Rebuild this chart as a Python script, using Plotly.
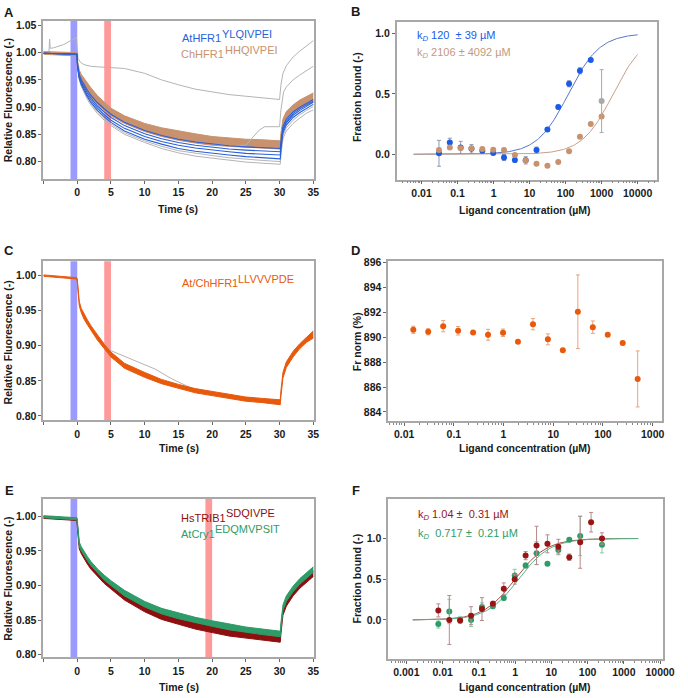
import numpy as np
import plotly.graph_objects as go

W, H = 688, 698
FONT = "Liberation Sans, Arial, Helvetica, sans-serif"

# ---------------- Panel A : MST time traces (AtHFR1 / ChHFR1) ----------------
TIME_A = [-5, -2.5, -0.05, 0.05, 0.3, 0.6, 1, 1.5, 2, 3, 4, 5, 7, 10, 12.5, 15, 17.5, 20,
          22.5, 25, 27.5, 30.1, 30.2, 30.5, 31, 32, 33, 34, 35]
A_BROWN_HI = [1.002, 1.001, 1.000, 0.985, 0.968, 0.960, 0.953, 0.944, 0.936, 0.921, 0.909, 0.898, 0.884,
              0.870, 0.862, 0.856, 0.851, 0.846, 0.843, 0.841, 0.840, 0.838, 0.852, 0.878, 0.892, 0.904,
              0.913, 0.920, 0.926]
A_BROWN_LO = [0.997, 0.996, 0.994, 0.972, 0.955, 0.946, 0.937, 0.927, 0.919, 0.905, 0.894, 0.884, 0.870,
              0.855, 0.846, 0.839, 0.834, 0.830, 0.828, 0.826, 0.825, 0.823, 0.836, 0.864, 0.878, 0.891,
              0.899, 0.905, 0.910]
A_BLUE_1 = [0.999, 0.998, 0.997, 0.978, 0.960, 0.950, 0.941, 0.931, 0.922, 0.908, 0.897, 0.887, 0.872,
            0.857, 0.848, 0.841, 0.836, 0.832, 0.829, 0.827, 0.826, 0.824, 0.836, 0.864, 0.878, 0.891,
            0.900, 0.907, 0.914]
A_BLUE_2 = [0.999, 0.998, 0.997, 0.976, 0.957, 0.946, 0.936, 0.926, 0.917, 0.902, 0.891, 0.881, 0.866,
            0.851, 0.842, 0.835, 0.830, 0.826, 0.823, 0.821, 0.820, 0.818, 0.832, 0.860, 0.874, 0.888,
            0.897, 0.904, 0.911]
A_BLUE_3 = [0.999, 0.998, 0.997, 0.975, 0.955, 0.944, 0.933, 0.922, 0.913, 0.898, 0.886, 0.876, 0.861,
            0.846, 0.837, 0.830, 0.825, 0.821, 0.818, 0.815, 0.813, 0.812, 0.828, 0.857, 0.871, 0.885,
            0.894, 0.902, 0.909]
A_BLUE_4 = [0.999, 0.998, 0.997, 0.974, 0.953, 0.941, 0.930, 0.919, 0.909, 0.894, 0.882, 0.872, 0.856,
            0.841, 0.832, 0.824, 0.819, 0.815, 0.812, 0.809, 0.807, 0.805, 0.823, 0.853, 0.867, 0.881,
            0.890, 0.898, 0.905]
A_GRAY_LO1 = [0.999, 0.998, 0.997, 0.973, 0.952, 0.940, 0.928, 0.917, 0.907, 0.891, 0.879, 0.869, 0.853,
              0.838, 0.828, 0.820, 0.815, 0.811, 0.807, 0.804, 0.802, 0.800, 0.818, 0.848, 0.862, 0.876,
              0.886, 0.894, 0.901]
A_GRAY_LO2 = [0.999, 0.998, 0.997, 0.972, 0.950, 0.938, 0.926, 0.914, 0.904, 0.888, 0.876, 0.866, 0.850,
              0.835, 0.824, 0.816, 0.810, 0.806, 0.802, 0.799, 0.797, 0.795, 0.812, 0.842, 0.856, 0.870,
              0.880, 0.889, 0.895]
A_GRAY_TOP_T = [-4.2, -4.1, -4.0, -3.5, -2, -1, -0.1, 0.1, 0.5, 1, 2, 3, 5, 7, 10, 12.5, 15, 17.5, 20,
                22.5, 25, 27.5, 30.0, 30.2, 30.5, 31, 32, 33, 34, 35]
A_GRAY_TOP_V = [1.000, 1.025, 1.008, 1.009, 1.015, 1.022, 1.028, 0.990, 0.982, 0.978, 0.975, 0.974, 0.973,
                0.971, 0.962, 0.950, 0.941, 0.933, 0.928, 0.923, 0.920, 0.917, 0.914, 0.941, 0.962, 0.976,
                0.992, 1.003, 1.013, 1.022]
A_GRAY_RISE_T = [20, 22.5, 25, 26, 27, 27.8, 30.0, 30.2, 30.6, 31, 32, 33, 34, 35]
A_GRAY_RISE_V = [0.832, 0.829, 0.830, 0.843, 0.858, 0.864, 0.864, 0.895, 0.928, 0.937, 0.950, 0.959, 0.967, 0.975]

# ---------------- Panel B : binding curves ----------------
CONC_B_BLUE = [0.0305, 0.061, 0.122, 0.244, 0.488, 0.977, 1.95, 3.91, 7.81, 15.6, 31.3, 62.5, 125, 250, 500]
FB_BLUE = [0.008, 0.098, 0.057, 0.045, 0.030, 0.010, -0.027, -0.048, -0.050, 0.035, 0.204, 0.390, 0.583, 0.690, 0.780]
ERR_B_BLUE = [0.107, 0.035, 0.050, 0.035, 0.015, 0.012, 0.025, 0.020, 0.030, 0.025, 0.015, 0.015, 0.025, 0.025, 0.010]
CONC_B_BROWN = [0.0305, 0.061, 0.122, 0.244, 0.488, 0.977, 1.95, 3.91, 7.81, 15.6, 31.3, 62.5, 125, 250, 500, 1000]
FB_BROWN = [0.035, 0.057, 0.049, 0.049, 0.044, 0.038, 0.035, -0.005, -0.052, -0.079, -0.095, -0.063, 0.025,
            0.145, 0.250, 0.313]
CONC_B_GRAY = [1000]
FB_GRAY = [0.44]
ERR_B_GRAY = [0.26]
KD_B = [120, 2106]
FIT_RANGE_B = [0.006, 10000]

# ---------------- Panel C ----------------
TIME_C = TIME_A
C_HI = [1.001, 0.999, 0.997, 0.990, 0.963, 0.953, 0.945, 0.937, 0.929, 0.915, 0.902, 0.891, 0.875, 0.862,
        0.852, 0.845, 0.839, 0.835, 0.831, 0.827, 0.825, 0.823, 0.836, 0.862, 0.877, 0.892, 0.903, 0.912, 0.921]
C_LO = [0.999, 0.997, 0.995, 0.985, 0.957, 0.947, 0.938, 0.930, 0.922, 0.908, 0.896, 0.884, 0.868, 0.855,
        0.846, 0.839, 0.833, 0.829, 0.825, 0.821, 0.819, 0.816, 0.828, 0.854, 0.869, 0.884, 0.896, 0.905, 0.911]
C_GRAY_T = [3, 4, 5, 7, 9, 11.5, 14, 16.3, 17.5, 20]
C_GRAY_V = [0.915, 0.903, 0.893, 0.885, 0.878, 0.867, 0.853, 0.842, 0.837, 0.832]

# ---------------- Panel D ----------------
CONC_D = [0.0153, 0.0305, 0.061, 0.122, 0.244, 0.488, 0.977, 1.95, 3.91, 7.81, 15.6, 31.3, 62.5, 125, 250, 500]
FNORM_D = [890.60, 890.44, 890.89, 890.52, 890.39, 890.20, 890.36, 889.64, 891.05, 889.83, 888.96, 892.05,
           890.81, 890.20, 889.54, 886.65]
ERR_D = [0.29, 0.25, 0.45, 0.34, 0.0, 0.44, 0.30, 0.0, 0.45, 0.44, 0.0, 2.96, 0.50, 0.0, 0.0, 2.25]

# ---------------- Panel E ----------------
TIME_E = TIME_A
E_GREEN_HI = [1.001, 0.999, 0.998, 0.990, 0.963, 0.956, 0.949, 0.942, 0.935, 0.924, 0.915, 0.907, 0.893,
              0.877, 0.867, 0.860, 0.854, 0.849, 0.844, 0.840, 0.837, 0.834, 0.846, 0.872, 0.885, 0.899,
              0.910, 0.919, 0.927]
E_GREEN_LO = [0.998, 0.997, 0.995, 0.984, 0.957, 0.950, 0.943, 0.936, 0.929, 0.918, 0.908, 0.900, 0.885,
              0.869, 0.859, 0.852, 0.846, 0.841, 0.836, 0.832, 0.829, 0.826, 0.838, 0.864, 0.877, 0.891,
              0.902, 0.911, 0.919]
E_RED_HI = [1.000, 0.998, 0.997, 0.986, 0.959, 0.952, 0.945, 0.938, 0.931, 0.920, 0.910, 0.902, 0.887,
            0.870, 0.860, 0.853, 0.846, 0.841, 0.836, 0.833, 0.831, 0.829, 0.840, 0.866, 0.879, 0.893,
            0.904, 0.913, 0.921]
E_RED_LO = [0.997, 0.996, 0.994, 0.980, 0.953, 0.946, 0.939, 0.931, 0.924, 0.913, 0.903, 0.895, 0.879,
            0.862, 0.851, 0.844, 0.837, 0.832, 0.827, 0.824, 0.821, 0.818, 0.830, 0.857, 0.870, 0.885,
            0.896, 0.905, 0.913]

# ---------------- Panel F ----------------
CONC_F = [0.00763, 0.0153, 0.0305, 0.061, 0.122, 0.244, 0.488, 0.977, 1.95, 3.91, 7.81, 15.6, 31.3, 62.5, 125, 250]
FB_RED = [0.118, 0.0, -0.005, 0.053, 0.134, 0.20, 0.385, 0.50, 0.79, 0.915, 0.935, 0.90, 0.77, 0.955, 1.20, 1.00]
ERR_RED = [0.08, 0.30, 0.03, 0.11, 0.14, 0.03, 0.07, 0.06, 0.05, 0.235, 0.11, 0.09, 0.04, 0.32, 0.12, 0.07]
FB_GREEN = [-0.049, 0.105, 0.0, 0.0, 0.16, 0.17, 0.27, 0.547, 0.668, 0.82, 0.69, 0.86, 0.985, 1.03, None, 0.923]
ERR_GREEN = [0.05, 0.15, 0.04, 0.08, 0.05, 0.03, 0.03, 0.075, 0.03, 0.14, 0.0, 0.06, 0.01, 0.24, None, 0.10]
FIT_MID_F = [1.0, 1.25]   # red, green curve midpoints
FIT_RANGE_F = [0.0015, 2500]

# ---------------- colours ----------------
C_BLUE = "#2a5fd8"
C_BROWN = "#c8926e"
C_GRAY = "#b4b4b4"
C_ORANGE = "#e8590c"
C_DRED = "#8e0f0f"
C_GREEN = "#2e9c68"
BAR_BLUE = "#9b9bff"
BAR_RED = "#ff9a9a"

fig = go.Figure()


def ax_names(i):
    s = "" if i == 1 else str(i)
    return "x" + s, "y" + s


def add_line(x, y, i, color, width=1.0, **kw):
    xa, ya = ax_names(i)
    fig.add_trace(go.Scatter(x=x, y=y, mode="lines", line=dict(color=color, width=width),
                             xaxis=xa, yaxis=ya, hoverinfo="skip", showlegend=False, **kw))


def add_band(x, lo, hi, i, color):
    add_line(x, lo, i, color, 1.0)
    add_line(x, hi, i, color, 1.0, fill="tonexty", fillcolor=color)


def add_points(x, y, err, i, color, ecolor):
    xa, ya = ax_names(i)
    fig.add_trace(go.Scatter(x=x, y=y, mode="markers", marker=dict(color=color, size=6),
                             error_y=dict(type="data", array=err, visible=True, color=ecolor,
                                          thickness=1, width=2),
                             xaxis=xa, yaxis=ya, hoverinfo="skip", showlegend=False))


# Panel A
add_line(A_GRAY_TOP_T, A_GRAY_TOP_V, 1, C_GRAY, 1.0)
add_line(TIME_A, A_GRAY_LO2, 1, C_GRAY, 1.0)
add_line(TIME_A, A_GRAY_LO1, 1, C_GRAY, 1.0)
add_band(TIME_A, A_BROWN_LO, A_BROWN_HI, 1, C_BROWN)
add_line(A_GRAY_RISE_T, A_GRAY_RISE_V, 1, C_GRAY, 1.0)
for tr in (A_BLUE_1, A_BLUE_2, A_BLUE_3, A_BLUE_4):
    add_line(TIME_A, tr, 1, C_BLUE, 1.1)

# Panel B
for kd, col in zip(KD_B, ["#5577c8", "#c6a189"]):
    c = np.logspace(np.log10(FIT_RANGE_B[0]), np.log10(FIT_RANGE_B[1]), 200)
    add_line(c, c / (c + kd), 2, col, 1.0)
add_points(CONC_B_BLUE, FB_BLUE, ERR_B_BLUE, 2, "#1a5ce8", "#8d9bb5")
add_points(CONC_B_BROWN, FB_BROWN, [0] * len(FB_BROWN), 2, C_BROWN, C_BROWN)
add_points(CONC_B_GRAY, FB_GRAY, ERR_B_GRAY, 2, "#a9a9a9", "#a9a9a9")

# Panel C
add_line(C_GRAY_T, C_GRAY_V, 3, C_GRAY, 1.0)
add_band(TIME_C, C_LO, C_HI, 3, C_ORANGE)

# Panel D
add_points(CONC_D, FNORM_D, ERR_D, 4, C_ORANGE, "#e9a47e")

# Panel E
add_band(TIME_E, E_RED_LO, E_RED_HI, 5, C_DRED)
add_band(TIME_E, E_GREEN_LO, E_GREEN_HI, 5, C_GREEN)

# Panel F
for mid, col in zip(FIT_MID_F, ["#b04848", "#55b487"]):
    c = np.logspace(np.log10(FIT_RANGE_F[0]), np.log10(FIT_RANGE_F[1]), 200)
    add_line(c, c / (c + mid), 6, col, 1.0)
add_points(CONC_F, FB_GREEN, ERR_GREEN, 6, C_GREEN, "#85c9a7")
add_points(CONC_F, FB_RED, ERR_RED, 6, "#9a1414", "#b78a8a")

# ---------------- axes ----------------
def dom_x(l, r):
    return [l / W, r / W]


def dom_y(t, b):
    return [1 - b / H, 1 - t / H]


base = dict(showline=True, mirror=True, linecolor="#a8a8a8", linewidth=1.5, showgrid=False,
            zeroline=False, ticks="outside", ticklen=3, tickcolor="#666666", tickwidth=1,
            tickfont=dict(family=FONT, size=10.5, color="#1a1a1a", weight="bold"))

TIME_TICKS = [-5, 0, 5, 10, 15, 20, 25, 30, 35]
TIME_TEXT = [" ", "0", "5", "10", "15", "20", "25", "30", "35"]


def minor_log(lo, hi):
    return [m * 10.0 ** e for e in range(lo, hi) for m in range(2, 10)]


layout_axes = {}
# A
layout_axes["xaxis"] = dict(base, domain=dom_x(43, 319), range=[-5.05, 35.1], tickmode="array",
                            tickvals=TIME_TICKS, ticktext=TIME_TEXT, anchor="y")
layout_axes["yaxis"] = dict(base, domain=dom_y(16, 176), range=[0.768, 1.0585], tickmode="array",
                            tickvals=[0.80, 0.85, 0.90, 0.95, 1.00, 1.05], tickformat=".2f", anchor="x")
# B
layout_axes["xaxis2"] = dict(base, type="log", domain=dom_x(403.3, 668.7), range=[-2.69, 4.54],
                             tickmode="array", tickvals=[0.01, 0.1, 1, 10, 100, 1000, 10000],
                             ticktext=["0.01", "0.1", "1", "10", "100", "1000", "10000"], anchor="y2",
                             minor=dict(ticks="outside", ticklen=2, tickcolor="#888888",
                                        tickmode="array", tickvals=minor_log(-3, 5)))
layout_axes["yaxis2"] = dict(base, domain=dom_y(16.7, 176.7), range=[-0.21, 1.098], tickmode="array",
                             tickvals=[0, 0.5, 1.0], tickformat=".1f", anchor="x2")
# C
layout_axes["xaxis3"] = dict(base, domain=dom_x(43, 319), range=[-5.05, 35.1], tickmode="array",
                             tickvals=TIME_TICKS, ticktext=TIME_TEXT, anchor="y3")
layout_axes["yaxis3"] = dict(base, domain=dom_y(259.3, 420), range=[0.794, 1.0203], tickmode="array",
                             tickvals=[0.80, 0.85, 0.90, 0.95, 1.00], tickformat=".2f", anchor="x3")
# D
layout_axes["xaxis4"] = dict(base, type="log", domain=dom_x(394.7, 673.3), range=[-2.32, 3.18],
                             tickmode="array", tickvals=[0.01, 0.1, 1, 10, 100, 1000],
                             ticktext=["0.01", "0.1", "1", "10", "100", "1000"], anchor="y4",
                             minor=dict(ticks="outside", ticklen=2, tickcolor="#888888",
                                        tickmode="array", tickvals=minor_log(-3, 4)))
layout_axes["yaxis4"] = dict(base, domain=dom_y(259.3, 420.7), range=[883.28, 896.1], tickmode="array",
                             tickvals=[884, 886, 888, 890, 892, 894, 896], anchor="x4")
# E
layout_axes["xaxis5"] = dict(base, domain=dom_x(43, 319), range=[-5.05, 35.1], tickmode="array",
                             tickvals=TIME_TICKS, ticktext=TIME_TEXT, anchor="y5")
layout_axes["yaxis5"] = dict(base, domain=dom_y(499.3, 660), range=[0.796, 1.0257], tickmode="array",
                             tickvals=[0.80, 0.85, 0.90, 0.95, 1.00], tickformat=".2f", anchor="x5")
# F
layout_axes["xaxis6"] = dict(base, type="log", domain=dom_x(394.7, 674.7), range=[-3.5, 4.08],
                             tickmode="array", tickvals=[0.001, 0.01, 0.1, 1, 10, 100, 1000, 10000],
                             ticktext=["0.001", "0.01", "0.1", "1", "10", "100", "1000", "10000"],
                             anchor="y6",
                             minor=dict(ticks="outside", ticklen=2, tickcolor="#888888",
                                        tickmode="array", tickvals=minor_log(-4, 5)))
layout_axes["yaxis6"] = dict(base, domain=dom_y(499.3, 661.7), range=[-0.48, 1.49], tickmode="array",
                             tickvals=[0, 0.5, 1.0], tickformat=".1f", anchor="x6")

# ---------------- excitation / analysis bars ----------------
shapes = []
for xr, yr, x0, x1, col in [("x", "y", -1, 0, BAR_BLUE), ("x", "y", 4, 5, BAR_RED),
                             ("x3", "y3", -1, 0, BAR_BLUE), ("x3", "y3", 4, 5, BAR_RED),
                             ("x5", "y5", -1, 0, BAR_BLUE), ("x5", "y5", 19, 20, BAR_RED)]:
    shapes.append(dict(type="rect", xref=xr, yref=yr + " domain", x0=x0, x1=x1, y0=0, y1=1,
                       fillcolor=col, line=dict(width=0), layer="below"))

# ---------------- annotations ----------------
anns = []


def ann(text, x, y, size=11, color="#1a1a1a", xa="left", ya="middle", bold=False, angle=0):
    anns.append(dict(text=text, x=x / W, y=1 - y / H, xref="paper", yref="paper", showarrow=False,
                     xanchor=xa, yanchor=ya, textangle=angle,
                     font=dict(family=FONT, size=size, color=color, weight="bold" if bold else "normal")))


# panel letters
for letter, x, y in [("A", 8.3, 7.5), ("B", 361.5, 7.0), ("C", 8.3, 248.3), ("D", 361.5, 248.3),
                     ("E", 8.3, 491.3), ("F", 361.5, 491.3)]:
    ann(letter, x, y, size=13, xa="center", bold=True)

# axis titles
for t, x, y in [("Time (s)", 180, 206.7), ("Time (s)", 181, 448.3), ("Time (s)", 181, 690)]:
    ann(t, x, y, size=10.5, xa="center", bold=True)
for x, y in [(534, 207.5), (534, 448.3), (534, 690)]:
    ann("Ligand concentration (µM)", x, y, size=10.5, xa="center", bold=True)
for x, y in [(7.5, 96), (7.5, 341), (7.5, 580)]:
    ann("Relative Fluorescence (-)", x, y, size=10.5, xa="center", bold=True, angle=-90)
ann("Fraction bound (-)", 363, 93, size=10.5, xa="center", bold=True, angle=-90)
ann("Fr norm (%)", 363, 341, size=10.5, xa="center", bold=True, angle=-90)
ann("Fraction bound (-)", 363, 580, size=10.5, xa="center", bold=True, angle=-90)

# construct labels
ann("AtHFR1", 182.7, 33, size=11, color=C_BLUE)
ann("YLQIVPEI", 223, 29, size=11, color=C_BLUE)
ann("ChHFR1", 181.7, 50, size=11, color=C_BROWN)
ann("HHQIVPEI", 226, 45.5, size=11, color=C_BROWN)
ann("At/ChHFR1", 182.7, 281.7, size=11, color=C_ORANGE)
ann("LLVVVPDE", 240, 277.5, size=11, color=C_ORANGE)
ann("HsTRIB1", 181.7, 518.5, size=11, color=C_DRED)
ann("SDQIVPE", 227.5, 513.5, size=11, color=C_DRED)
ann("AtCry1", 181.7, 535, size=11, color=C_GREEN)
ann("EDQMVPSIT", 216.5, 530, size=11, color=C_GREEN)

# Kd labels
ann("k<sub><i>D</i></sub> 120  ± 39 µM", 422.3, 31.7, size=11, color="#1a5ce8")
ann("k<sub><i>D</i></sub> 2106 ± 4092 µM", 422.3, 48.3, size=11, color="#c49a7e")
ann("k<sub><i>D</i></sub> 1.04 ±  0.31 µM", 423.3, 516, size=11, color="#9a1414")
ann("k<sub><i>D</i></sub>  0.717 ±  0.21 µM", 423.3, 535.5, size=11, color=C_GREEN)

fig.update_layout(width=W, height=H, margin=dict(l=0, r=0, t=0, b=0), paper_bgcolor="white",
                  plot_bgcolor="white", showlegend=False, shapes=shapes, annotations=anns,
                  font=dict(family=FONT), **layout_axes)

fig.write_html("out.html", config={"displayModeBar": False},
               post_script="document.body.style.margin='0px';")
